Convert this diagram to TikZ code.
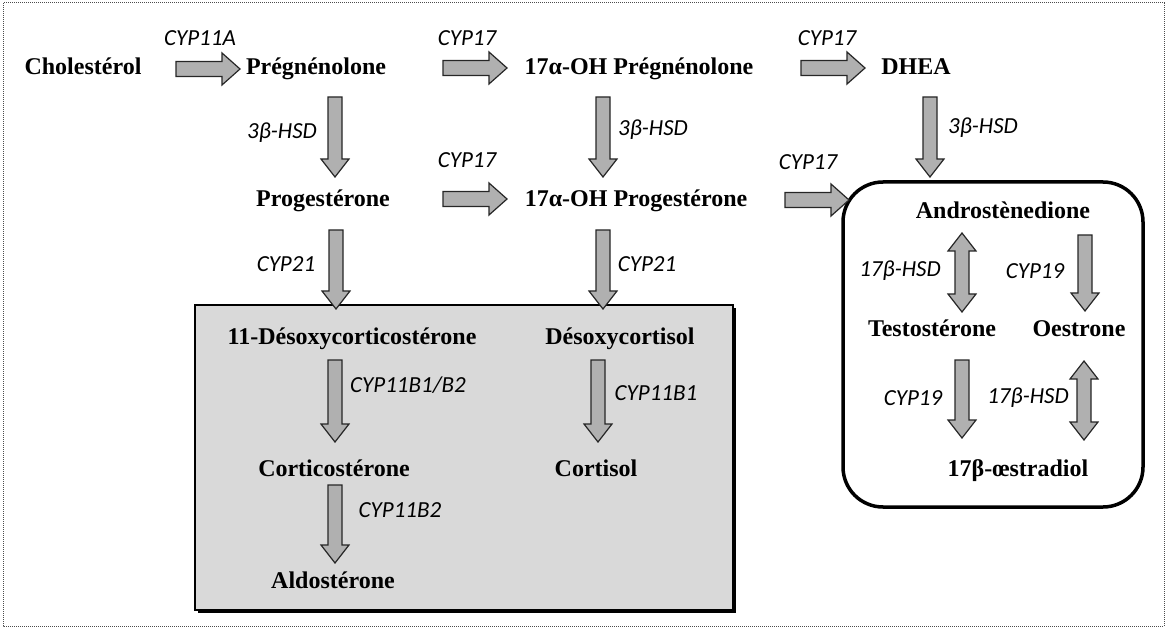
\documentclass[tikz,border=0pt]{standalone}
\usepackage{fontspec}
\setmainfont{Liberation Serif}
\newfontfamily\enzfont{Carlito}
\usetikzlibrary{calc}
\newcommand\HArrow[2]{\draw[blk] let \p1=(#1), \p2=(#2) in
  (\x1,\y1+7.5pt) -- (\x2-18pt,\y1+7.5pt) -- (\x2-18pt,\y1+16pt) -- (\x2,\y1)
  -- (\x2-18pt,\y1-16pt) -- (\x2-18pt,\y1-7.5pt) -- (\x1,\y1-7.5pt) -- cycle;}
\newcommand\VArrow[2]{\draw[blk] let \p1=(#1), \p2=(#2) in
  (\x1-7pt,\y1) -- (\x1-7pt,\y2+18pt) -- (\x1-14pt,\y2+18pt) -- (\x1,\y2)
  -- (\x1+14pt,\y2+18pt) -- (\x1+7pt,\y2+18pt) -- (\x1+7pt,\y1) -- cycle;}
\newcommand\DArrow[2]{\draw[blk] let \p1=(#1), \p2=(#2) in
  (\x1,\y1) -- (\x1+14pt,\y1-18pt) -- (\x1+7pt,\y1-18pt) -- (\x1+7pt,\y2+18pt)
  -- (\x1+14pt,\y2+18pt) -- (\x1,\y2) -- (\x1-14pt,\y2+18pt) -- (\x1-7pt,\y2+18pt)
  -- (\x1-7pt,\y1-18pt) -- (\x1-14pt,\y1-18pt) -- cycle;}
\begin{document}
\begin{tikzpicture}[x=1pt,y=-1pt,
  mol/.style={font=\fontsize{24}{28}\selectfont\bfseries, inner sep=0pt, anchor=base},
  enz/.style={font=\enzfont\itshape\fontsize{23}{26}\selectfont, inner sep=0pt},
  blk/.style={draw=black!85, line width=1.2pt, fill=gray!62},
  frame/.style={draw=black!70, line width=1pt, dash pattern=on 1pt off 1pt},
  graybox/.style={draw=black, line width=2pt, fill=gray!30},
  roundbox/.style={draw=black, line width=3.5pt, rounded corners=40pt}]
\useasboundingbox (0,0) rectangle (1168,631);
\draw[frame] (3,3) rectangle (1164,626);
% boxes
\fill[black] (198,308) rectangle (736,613);
\draw[graybox] (195,305) rectangle (733,610);
\draw[roundbox] (843,182) rectangle (1143,507);
% molecules
\node[mol] (chol) at (83,75) {Cholestérol};
\node[mol] (preg) at (316,75) {Prégnénolone};
\node[mol] (ohpreg) at (639,75) {17α-OH Prégnénolone};
\node[mol] (dhea) at (916,75) {DHEA};
\node[mol] (prog) at (323,207) {Progestérone};
\node[mol] (ohprog) at (636,207) {17α-OH Progestérone};
\node[mol] (andro) at (1003,219) {Androstènedione};
\node[mol] (testo) at (932,337) {Testostérone};
\node[mol] (oestrone) at (1079,337) {Oestrone};
\node[mol] (oestradiol) at (1018,476) {17β-œstradiol};
\node[mol] (doc) at (352,344) {11-Désoxycorticostérone};
\node[mol] (dcort) at (620,344) {Désoxycortisol};
\node[mol] (corti) at (334,476) {Corticostérone};
\node[mol] (cortisol) at (596,476) {Cortisol};
\node[mol] (aldo) at (333,588) {Aldostérone};
% enzyme labels
\node[enz] (e1) at (200,38) {CYP11A};
\node[enz] (e2) at (467,38) {CYP17};
\node[enz] (e3) at (827,38) {CYP17};
\node[enz] (e4) at (282,133) {3β-HSD};
\node[enz] (e5) at (653,130) {3β-HSD};
\node[enz] (e6) at (983,128) {3β-HSD};
\node[enz] (e7) at (467,160) {CYP17};
\node[enz] (e8) at (808,162) {CYP17};
\node[enz] (e9) at (286,264) {CYP21};
\node[enz] (e10) at (647,264) {CYP21};
\node[enz] (e11) at (408,385) {CYP11B1/B2};
\node[enz] (e12) at (656,393) {CYP11B1};
\node[enz] (e13) at (400,510) {CYP11B2};
\node[enz] (e14) at (900,271) {17β-HSD};
\node[enz] (e15) at (1035,271) {CYP19};
\node[enz] (e16) at (913,398) {CYP19};
\node[enz] (e17) at (1028,398) {17β-HSD};
% arrow end points
\coordinate (h1a) at (176,69);  \coordinate (h1b) at (240,69);
\coordinate (h2a) at (443,68);  \coordinate (h2b) at (507,68);
\coordinate (h3a) at (801,68);  \coordinate (h3b) at (865,68);
\coordinate (h4a) at (443,199); \coordinate (h4b) at (507,199);
\coordinate (h5a) at (785,200); \coordinate (h5b) at (849,200);
\coordinate (v1a) at (335,97);  \coordinate (v1b) at (335,177);
\coordinate (v2a) at (603,97);  \coordinate (v2b) at (603,177);
\coordinate (v3a) at (930,97);  \coordinate (v3b) at (930,177);
\coordinate (v4a) at (336,230); \coordinate (v4b) at (336,309);
\coordinate (v5a) at (603,230); \coordinate (v5b) at (603,309);
\coordinate (v6a) at (335,360); \coordinate (v6b) at (335,442);
\coordinate (v7a) at (598,360); \coordinate (v7b) at (598,442);
\coordinate (v8a) at (335,485); \coordinate (v8b) at (335,563);
\coordinate (d1a) at (962,233); \coordinate (d1b) at (962,312);
\coordinate (v9a) at (1085,235); \coordinate (v9b) at (1085,311);
\coordinate (v10a) at (962,360); \coordinate (v10b) at (962,438);
\coordinate (d2a) at (1084,361); \coordinate (d2b) at (1084,440);
% arrows
\HArrow{h1a}{h1b}
\HArrow{h2a}{h2b}
\HArrow{h3a}{h3b}
\HArrow{h4a}{h4b}
\HArrow{h5a}{h5b}
\VArrow{v1a}{v1b}
\VArrow{v2a}{v2b}
\VArrow{v3a}{v3b}
\VArrow{v4a}{v4b}
\VArrow{v5a}{v5b}
\VArrow{v6a}{v6b}
\VArrow{v7a}{v7b}
\VArrow{v8a}{v8b}
\VArrow{v9a}{v9b}
\VArrow{v10a}{v10b}
\DArrow{d1a}{d1b}
\DArrow{d2a}{d2b}
\end{tikzpicture}
\end{document}
